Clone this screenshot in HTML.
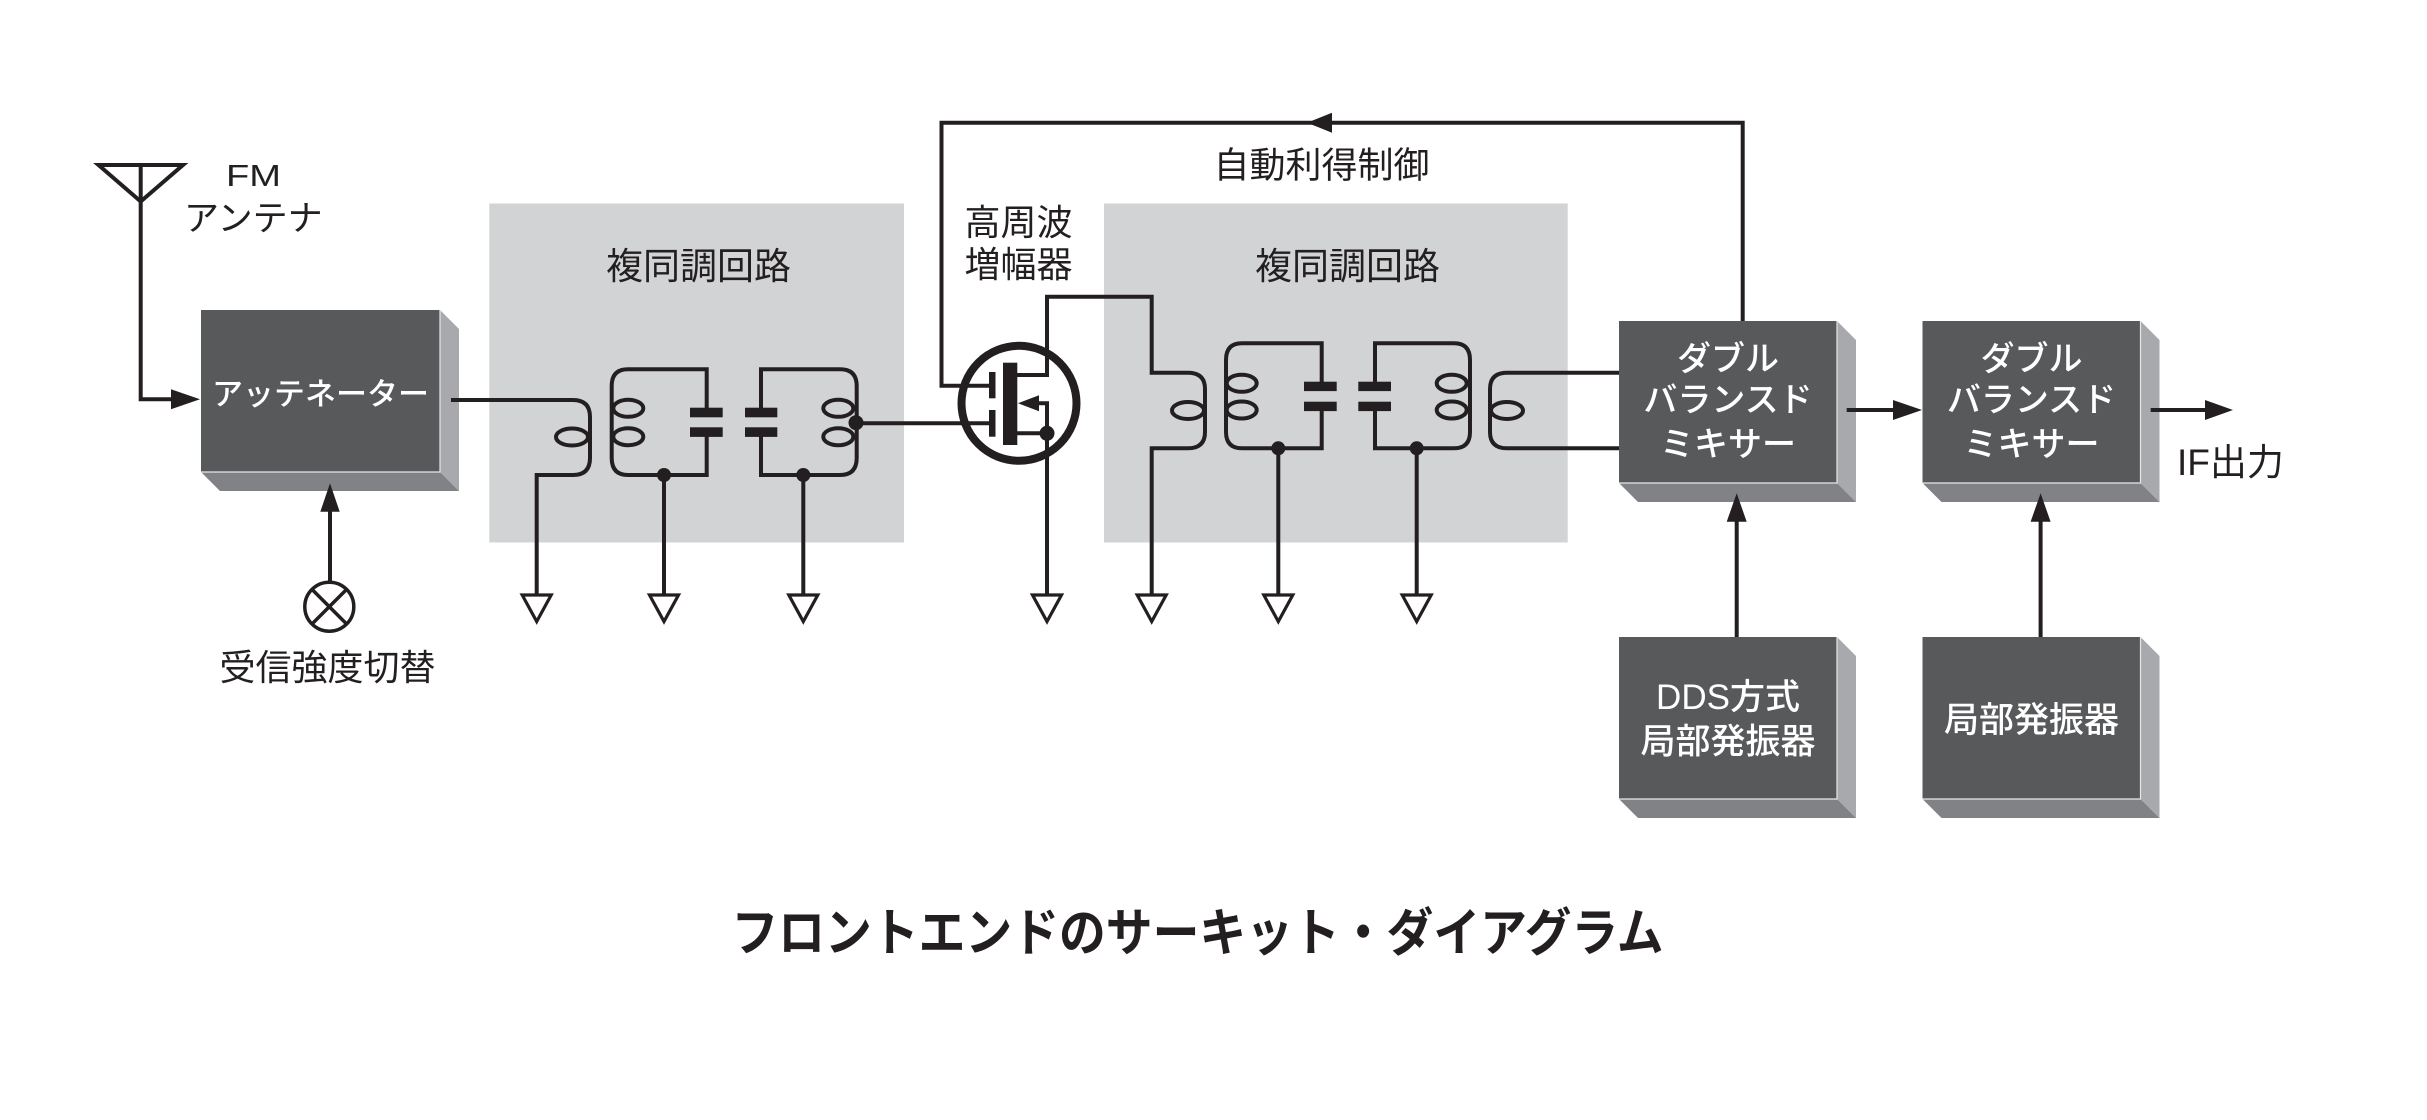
<!DOCTYPE html>
<html><head><meta charset="utf-8">
<style>
html,body{margin:0;padding:0;background:#fff;}
svg{display:block;}
text{font-family:"Liberation Sans","Noto Sans CJK JP",sans-serif;}
</style></head>
<body>
<svg width="2427" height="1120" viewBox="0 0 2427 1120" xmlns="http://www.w3.org/2000/svg">
<rect x="0" y="0" width="2427" height="1120" fill="#ffffff"/>

<!-- gray regions -->
<rect x="489.3" y="203.5" width="414.7" height="339" fill="#d1d3d4"/>
<rect x="1104" y="203.5" width="463.7" height="339" fill="#d1d3d4"/>

<!-- boxes -->
<g>
  <polygon points="440,310 459,329 459,491 440,472" fill="#a7a9ac"/>
  <polygon points="201,472 440,472 459,491 220,491" fill="#808285"/>
  <rect x="201" y="310" width="239" height="162" fill="#58595b"/>
  <polyline points="440,310 440,472 201,472" fill="none" stroke="#e6e7e8" stroke-width="1.2"/>

  <polygon points="1837,321 1856,340 1856,502 1837,483" fill="#a7a9ac"/>
  <polygon points="1619,483 1837,483 1856,502 1638,502" fill="#808285"/>
  <rect x="1619" y="321" width="218" height="162" fill="#58595b"/>
  <polyline points="1837,321 1837,483 1619,483" fill="none" stroke="#e6e7e8" stroke-width="1.2"/>

  <polygon points="2140.5,321 2159.5,340 2159.5,502 2140.5,483" fill="#a7a9ac"/>
  <polygon points="1922.5,483 2140.5,483 2159.5,502 1941.5,502" fill="#808285"/>
  <rect x="1922.5" y="321" width="218" height="162" fill="#58595b"/>
  <polyline points="2140.5,321 2140.5,483 1922.5,483" fill="none" stroke="#e6e7e8" stroke-width="1.2"/>

  <polygon points="1837,637 1856,656 1856,818 1837,799" fill="#a7a9ac"/>
  <polygon points="1619,799 1837,799 1856,818 1638,818" fill="#808285"/>
  <rect x="1619" y="637" width="218" height="162" fill="#58595b"/>
  <polyline points="1837,637 1837,799 1619,799" fill="none" stroke="#e6e7e8" stroke-width="1.2"/>

  <polygon points="2140.5,637 2159.5,656 2159.5,818 2140.5,799" fill="#a7a9ac"/>
  <polygon points="1922.5,799 2140.5,799 2159.5,818 1941.5,818" fill="#808285"/>
  <rect x="1922.5" y="637" width="218" height="162" fill="#58595b"/>
  <polyline points="2140.5,637 2140.5,799 1922.5,799" fill="none" stroke="#e6e7e8" stroke-width="1.2"/>
</g>

<g fill="none" stroke="#231f20" stroke-width="4" stroke-linejoin="miter">
  <polygon points="98.5,165 183,165 140.7,201.5" stroke-width="4"/>
  <path d="M140.7,165 V399.3 H175"/>
  <path d="M330,581.7 V508"/>
  <circle cx="329.3" cy="606.7" r="24.5" stroke-width="3.5"/>
  <path d="M312,589.4 L346.6,624 M346.6,589.4 L312,624" stroke-width="3.5"/>

  <path d="M451,400 H573 Q590,400 590,417 V458 Q590,475 573,475 H536.7 V595"/>
  <ellipse cx="572" cy="437" rx="16" ry="8.5"/>
  <path d="M706.7,409 V369.3 H628 Q611.7,369.3 611.7,386 V458 Q611.7,475 628,475 H706.7 V435"/>
  <ellipse cx="628.3" cy="408.3" rx="15" ry="8.5"/>
  <ellipse cx="628.3" cy="436.7" rx="15" ry="8.5"/>
  <path d="M664,475 V595"/>
  <path d="M761,409 V369.3 H840 Q856.7,369.3 856.7,386 V458 Q856.7,475 840,475 H761 V435"/>
  <ellipse cx="838.3" cy="408.3" rx="15" ry="8.5"/>
  <ellipse cx="838.3" cy="436.7" rx="15" ry="8.5"/>
  <path d="M803.3,475 V595"/>
  <path d="M856,423.3 H992"/>

  <circle cx="1019" cy="403.3" r="57.5" stroke-width="8"/>
  <path d="M1742.7,321 V122.7 H941.5 V385.7 H992"/>
  <path d="M1017,375 H1047 V296.7 H1151.7 V372.7 H1188 Q1205,372.7 1205,389 V432 Q1205,448.3 1188,448.3 H1151.7 V595"/>
  <ellipse cx="1188" cy="410.5" rx="16" ry="8.5"/>
  <path d="M1036,403.3 H1047 V595"/>
  <path d="M1017,433.3 H1047"/>

  <path d="M1321.7,383 V343.3 H1242 Q1226,343.3 1226,360 V432 Q1226,448.3 1242,448.3 H1321.7 V409"/>
  <ellipse cx="1241.7" cy="383.3" rx="15" ry="8.5"/>
  <ellipse cx="1241.7" cy="410" rx="15" ry="8.5"/>
  <path d="M1278.3,448.3 V595"/>
  <path d="M1375,383 V343.3 H1454 Q1470,343.3 1470,360 V432 Q1470,448.3 1454,448.3 H1375 V409"/>
  <ellipse cx="1451.7" cy="383.3" rx="15" ry="8.5"/>
  <ellipse cx="1451.7" cy="410" rx="15" ry="8.5"/>
  <path d="M1416.7,448.3 V595"/>
  <path d="M1619,372.7 H1507 Q1490,372.7 1490,389 V432 Q1490,448.3 1507,448.3 H1619"/>
  <ellipse cx="1507" cy="410.5" rx="16" ry="8.5"/>

  <path d="M1846.7,410 H1896"/>
  <path d="M2150.7,410 H2208"/>
  <path d="M1736.7,637 V518"/>
  <path d="M2040.6,637 V518"/>
</g>

<g fill="#231f20">
  <polygon points="171,389.3 200,399.3 171,409.3"/>
  <polygon points="320.3,511.7 339.7,511.7 330,483.3"/>
  <polygon points="1307,122.7 1332,112.7 1332,132.7"/>
  <polygon points="1893,400 1922,410 1893,420"/>
  <polygon points="2205,400 2233,410 2205,420"/>
  <polygon points="1726.7,521.7 1746.7,521.7 1736.7,493.3"/>
  <polygon points="2030.6,521.7 2050.6,521.7 2040.6,493.3"/>
  <rect x="690" y="407.7" width="32.7" height="9.6"/>
  <rect x="690" y="427.3" width="32.7" height="9.6"/>
  <rect x="745" y="407.7" width="32.3" height="9.6"/>
  <rect x="745" y="427.3" width="32.3" height="9.6"/>
  <rect x="1304" y="381.7" width="32.7" height="9.4"/>
  <rect x="1304" y="401.7" width="32.7" height="9.4"/>
  <rect x="1358.3" y="381.7" width="32.7" height="9.4"/>
  <rect x="1358.3" y="401.7" width="32.7" height="9.4"/>
  <circle cx="664" cy="475" r="7"/>
  <circle cx="803.3" cy="475" r="7"/>
  <circle cx="856" cy="422.7" r="7.5"/>
  <circle cx="1278.3" cy="448.3" r="7"/>
  <circle cx="1416.7" cy="448.3" r="7"/>
  <circle cx="1047" cy="433.3" r="7.5"/>
  <rect x="989" y="372" width="6.5" height="26.3"/>
  <rect x="989" y="410" width="6.5" height="26.7"/>
  <rect x="1003" y="362.7" width="14.3" height="82.3"/>
  <polygon points="1018,403.3 1039,395.3 1039,411.3"/>
</g>

<g fill="#ffffff" stroke="#231f20" stroke-width="3.2" stroke-linejoin="miter">
  <polygon points="522.2,595 551.2,595 536.7,621.5"/>
  <polygon points="649.5,595 678.5,595 664,621.5"/>
  <polygon points="788.8,595 817.8,595 803.3,621.5"/>
  <polygon points="1032.5,595 1061.5,595 1047,621.5"/>
  <polygon points="1137.2,595 1166.2,595 1151.7,621.5"/>
  <polygon points="1263.8,595 1292.8,595 1278.3,621.5"/>
  <polygon points="1402.2,595 1431.2,595 1416.7,621.5"/>
</g>

<g fill="#231f20">
  <text x="226" y="186" font-size="31" textLength="55" lengthAdjust="spacingAndGlyphs">FM</text>
  <text x="184" y="230.5" font-size="35">アンテナ</text>
  <text x="698.5" y="279" font-size="37" text-anchor="middle">複同調回路</text>
  <text x="1347.5" y="279" font-size="37" text-anchor="middle">複同調回路</text>
  <text x="1018.5" y="235" font-size="36" text-anchor="middle">高周波</text>
  <text x="1018.5" y="277" font-size="36" text-anchor="middle">増幅器</text>
  <text x="1321.5" y="177.5" font-size="36" text-anchor="middle">自動利得制御</text>
  <text x="327.5" y="680" font-size="36" text-anchor="middle">受信強度切替</text>
  <text x="2177" y="475" font-size="37">IF出力</text>
  <g transform="translate(1197.5,951) scale(1,1.1)">
    <text x="0" y="0" font-size="46.8" font-weight="700" text-anchor="middle">フロントエンドのサーキット・ダイアグラム</text>
  </g>
</g>
<g fill="#ffffff" font-weight="500">
  <text x="320.5" y="405" font-size="31" text-anchor="middle">アッテネーター</text>
  <text x="1728" y="370.5" font-size="34" text-anchor="middle">ダブル</text>
  <text x="1728" y="411.5" font-size="34" text-anchor="middle">バランスド</text>
  <text x="1728" y="456" font-size="34" text-anchor="middle">ミキサー</text>
  <text x="2031.5" y="370.5" font-size="34" text-anchor="middle">ダブル</text>
  <text x="2031.5" y="411.5" font-size="34" text-anchor="middle">バランスド</text>
  <text x="2031.5" y="456" font-size="34" text-anchor="middle">ミキサー</text>
  <text x="1728" y="709" font-size="35" text-anchor="middle">DDS方式</text>
  <text x="1728" y="753.5" font-size="35" text-anchor="middle">局部発振器</text>
  <text x="2031.5" y="732" font-size="35" text-anchor="middle">局部発振器</text>
</g>
</svg>
</body></html>
